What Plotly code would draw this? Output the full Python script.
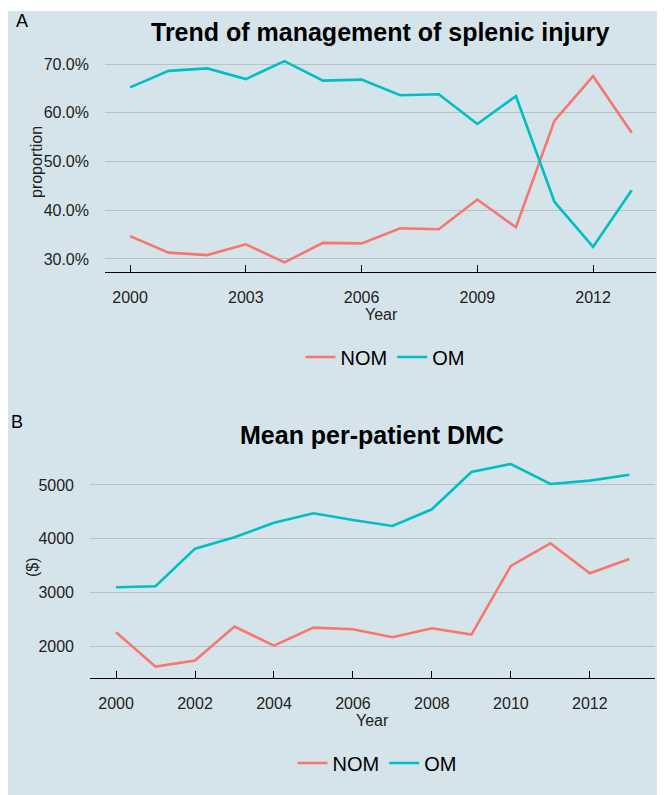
import plotly.graph_objects as go

# page is rendered with an 8px body margin, so the figure starts at page (8, 8)
OFF = 8
W, H = 665 - OFF, 795 - OFF

years = list(range(2000, 2014))

# Panel A: proportion (%) by management type
nom_prop = [34.7, 31.3, 30.8, 33.0, 29.3, 33.3, 33.2, 36.3, 36.1, 42.2, 36.5, 58.4, 67.5, 55.9]
om_prop = [65.2, 68.6, 69.1, 66.9, 70.6, 66.6, 66.8, 63.6, 63.8, 57.7, 63.4, 41.7, 32.5, 44.1]

# Panel B: mean per-patient DMC ($)
nom_cost = [2257, 1616, 1728, 2361, 2008, 2343, 2313, 2164, 2330, 2212, 3492, 3914, 3356, 3622]
om_cost = [3095, 3113, 3814, 4026, 4298, 4473, 4348, 4236, 4547, 5242, 5391, 5019, 5081, 5192]

a_xticks = [2000, 2003, 2006, 2009, 2012]
a_yticks = [0.3, 0.4, 0.5, 0.6, 0.7]
b_xticks = [2000, 2002, 2004, 2006, 2008, 2010, 2012]
b_yticks = [2000, 3000, 4000, 5000]

NOM_C = "#F8766D"
OM_C = "#00BFC4"
BG = "#d5e4eb"
GRID = "#b6c2c8"
FONT = "Liberation Sans, Arial, sans-serif"


def px(x):
    return (x - OFF) / W


def py(y):
    return 1 - (y - OFF) / H


fig = go.Figure()

fig.add_trace(go.Scatter(x=years, y=[v / 100 for v in nom_prop], mode="lines", name="NOM",
                         line=dict(color=NOM_C, width=2.6), xaxis="x", yaxis="y", legend="legend"))
fig.add_trace(go.Scatter(x=years, y=[v / 100 for v in om_prop], mode="lines", name="OM",
                         line=dict(color=OM_C, width=2.6), xaxis="x", yaxis="y", legend="legend"))
fig.add_trace(go.Scatter(x=years, y=nom_cost, mode="lines", name="NOM",
                         line=dict(color=NOM_C, width=2.6), xaxis="x2", yaxis="y2", legend="legend2"))
fig.add_trace(go.Scatter(x=years, y=om_cost, mode="lines", name="OM",
                         line=dict(color=OM_C, width=2.6), xaxis="x2", yaxis="y2", legend="legend2"))

tickfont = dict(family=FONT, size=16, color="#222222")

xcommon = dict(showgrid=False, zeroline=False, showline=True, linecolor="black", linewidth=1,
               ticks="inside", ticklen=7, tickcolor="black", tickwidth=1, tickfont=tickfont,
               ticklabelstandoff=11)
ycommon = dict(showgrid=True, gridcolor=GRID, gridwidth=1, zeroline=False, showline=False,
               ticks="", tickfont=tickfont, ticklabelstandoff=15)

fig.update_layout(
    width=W, height=H,
    margin=dict(l=0, r=0, t=0, b=0),
    paper_bgcolor=BG,
    plot_bgcolor="rgba(0,0,0,0)",
    font=dict(family=FONT, color="black"),
    xaxis=dict(domain=[px(105), px(656)], range=[1999.35, 2013.63], tickvals=a_xticks,
               anchor="y", **xcommon),
    yaxis=dict(domain=[py(272), py(51)], range=[0.2733, 0.7267], tickvals=a_yticks,
               tickformat=".1%", anchor="x", **ycommon),
    xaxis2=dict(domain=[px(90), px(655)], range=[1999.34, 2013.65], tickvals=b_xticks,
                anchor="y2", **xcommon),
    yaxis2=dict(domain=[py(678), py(453)], range=[1404, 5596], tickvals=b_yticks,
                tickformat="d", anchor="x2", **ycommon),
    legend=dict(orientation="h", x=px(385), xanchor="center", y=py(357), yanchor="middle",
                bgcolor="rgba(0,0,0,0)", font=dict(family=FONT, size=20, color="black"),
                itemwidth=30),
    legend2=dict(orientation="h", x=px(377), xanchor="center", y=py(763), yanchor="middle",
                 bgcolor="rgba(0,0,0,0)", font=dict(family=FONT, size=20, color="black"),
                 itemwidth=30),
    shapes=[dict(type="rect", xref="paper", yref="paper", x0=0, x1=1, y0=py(11), y1=1,
                 fillcolor="white", line=dict(width=0), layer="below")],
)

ann = [
    dict(text="A", x=px(14), y=py(21), xanchor="left", yanchor="middle", font=dict(size=18)),
    dict(text="<b>Trend of management of splenic injury</b>", x=px(380), y=py(32),
         xanchor="center", yanchor="middle", font=dict(size=25)),
    dict(text="proportion", x=px(37), y=py(162), xanchor="center", yanchor="middle",
         textangle=-90, font=dict(size=16, color="#222222")),
    dict(text="Year", x=px(381), y=py(314), xanchor="center", yanchor="middle",
         font=dict(size=16, color="#222222")),
    dict(text="B", x=px(9), y=py(422), xanchor="left", yanchor="middle", font=dict(size=18)),
    dict(text="<b>Mean per-patient DMC</b>", x=px(372), y=py(435),
         xanchor="center", yanchor="middle", font=dict(size=25)),
    dict(text="($)", x=px(32), y=py(567), xanchor="center", yanchor="middle",
         textangle=-90, font=dict(size=16, color="#222222")),
    dict(text="Year", x=px(372), y=py(720), xanchor="center", yanchor="middle",
         font=dict(size=16, color="#222222")),
]
for a in ann:
    a.update(xref="paper", yref="paper", showarrow=False)
    a["font"] = dict(family=FONT, color=a["font"].get("color", "black"), size=a["font"]["size"])
fig.update_layout(annotations=ann)

fig.write_html("out.html")
